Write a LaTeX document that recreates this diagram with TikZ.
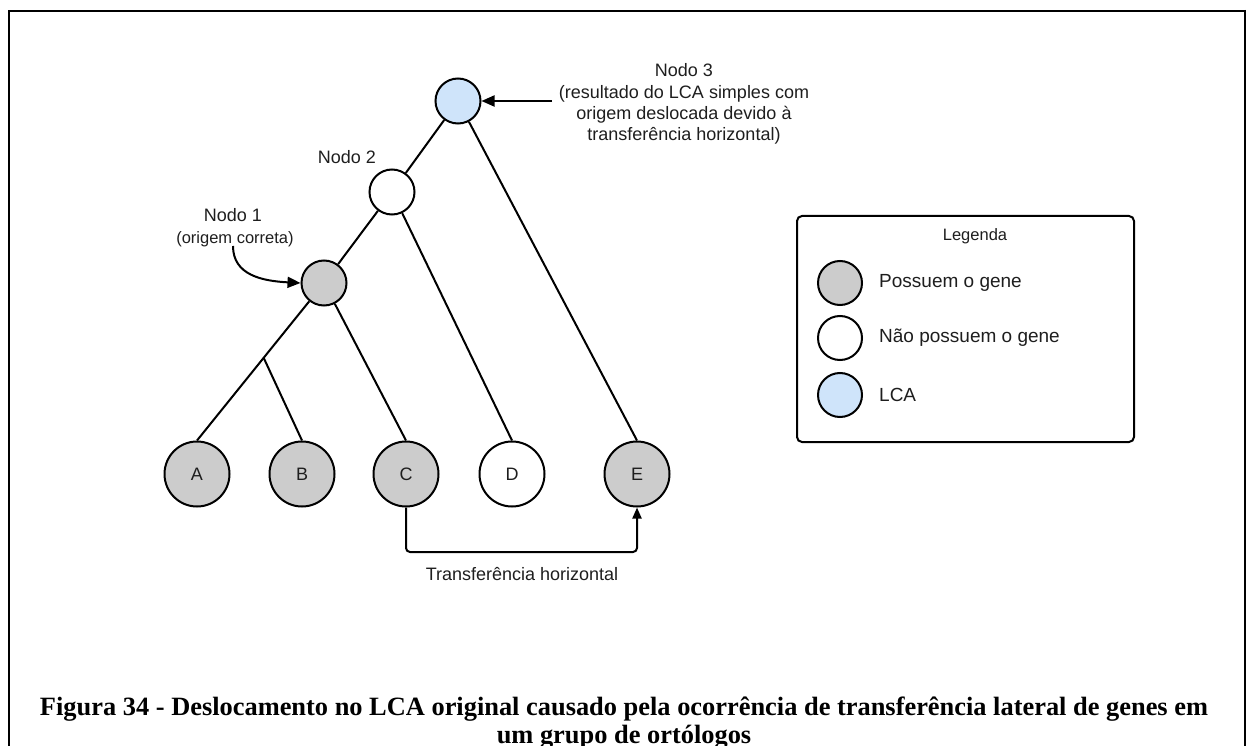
\documentclass[tikz,border=0pt]{standalone}
\usepackage{fontspec}
\setmainfont{Liberation Sans}
\newfontfamily\capfont{Liberation Serif}
\usetikzlibrary{arrows.meta,calc}
\definecolor{hasgene}{RGB}{204,204,204}
\definecolor{lcablue}{RGB}{207,228,250}
\definecolor{txt}{RGB}{30,30,30}

\begin{document}
\begin{tikzpicture}[x=1pt,y=-1pt,
  every node/.style={font=\fontsize{18}{21}\selectfont,text=txt},
  small/.style={font=\fontsize{16.5}{19}\selectfont},
  treenode/.style={circle,draw=black,line width=2pt,minimum size=45pt,inner sep=0pt},
  leafnode/.style={circle,draw=black,line width=2pt,minimum size=65pt,inner sep=0pt,fill=hasgene},
  keynode/.style={circle,draw=black,line width=2pt,minimum size=44pt,inner sep=0pt},
  branch/.style={line width=2pt,black},
  pointer/.style={line width=2pt,black,-{Triangle[length=13pt,width=11pt]}},
  label/.style={inner sep=0pt,align=center},
  caption/.style={inner sep=0pt,anchor=base,text=black,font=\capfont\bfseries\fontsize{26.4}{28}\selectfont}
]
\useasboundingbox (0,0) rectangle (1248,746);

% page frame, open at the bottom
\begin{scope}
  \clip (0,0) rectangle (1248,746);
  \draw[line width=2.6pt] (9,760) -- (9,11);
  \draw[line width=2pt] (8,11) -- (1245,11);
  \draw[line width=1.6pt] (1245,10) -- (1245,760);
\end{scope}

% internal nodes
\node[treenode,fill=lcablue] (n3) at (458,101) {};
\node[treenode,fill=white]   (n2) at (392,192) {};
\node[treenode,fill=hasgene] (n1) at (324,283) {};

% leaves
\node[leafnode] (A) at (197,474) {A};
\node[leafnode] (B) at (302,474) {B};
\node[leafnode] (C) at (406,474) {C};
\node[leafnode,fill=white] (D) at (512,474) {D};
\node[leafnode] (E) at (637,474) {E};

% tree edges
\coordinate (ab) at ($(n1.center)!0.475!(A.north)$);
\draw[branch] (n3) -- (n2);
\draw[branch] (n2) -- (n1);
\draw[branch] (n1) -- (A.north);
\draw[branch] (ab) -- (B.north);
\draw[branch] (n1) -- (C.north);
\draw[branch] (n2) -- (D.north);
\draw[branch] (n3) -- (E.north);

% node labels
\node[label] (t2) at (347,157) {Nodo 2};
\node[label] (t1) at (233,215) {Nodo 1};
\node[label,small] (t1b) at (235,239) {(origem correta)};
\node[label] (t3) at (684,70) {Nodo 3};
\node[label,anchor=north] (t3b) at (684,85)
  {(resultado do LCA simples com\\origem deslocada devido à\\transferência horizontal)};

% pointer arrows
\coordinate (p3) at (552,101);
\draw[pointer] (p3) -- (n3.east);
\coordinate (p1) at (233,246);
\draw[pointer] (p1) .. controls (233,275) and (262,281) .. (n1.west);

% horizontal transfer
\draw[line width=2pt,rounded corners=4pt,-{Triangle[length=11pt,width=9pt]}]
  (C.south) -- (406,552) -- (637,552) -- (E.south);
\node[label] (tr) at (522,574) {Transferência horizontal};

% legend
\node[draw=black,line width=2pt,rounded corners=5pt,minimum width=337pt,minimum height=226pt,inner sep=0pt,anchor=north west] (leg) at (796,215) {};
\node[label,small] (legt) at (975,236) {Legenda};
\node[keynode,fill=hasgene] (k1) at (840,283) {};
\node[keynode,fill=white]   (k2) at (840,338) {};
\node[keynode,fill=lcablue] (k3) at (840,395) {};
\node[label,anchor=west,font=\fontsize{19}{22}\selectfont] (l1) at (879,283) {Possuem o gene};
\node[label,anchor=west,font=\fontsize{19}{22}\selectfont] (l2) at (879,338) {Não possuem o gene};
\node[label,anchor=west,font=\fontsize{19}{22}\selectfont] (l3) at (879,395) {LCA};

% caption, two lines
\node[caption] (cap1) at (624,715)
  {Figura 34 - Deslocamento no LCA original causado pela ocorrência de transferência lateral de genes em};
\node[caption] (cap2) at (624,743) {um grupo de ortólogos};
\end{tikzpicture}
\end{document}
